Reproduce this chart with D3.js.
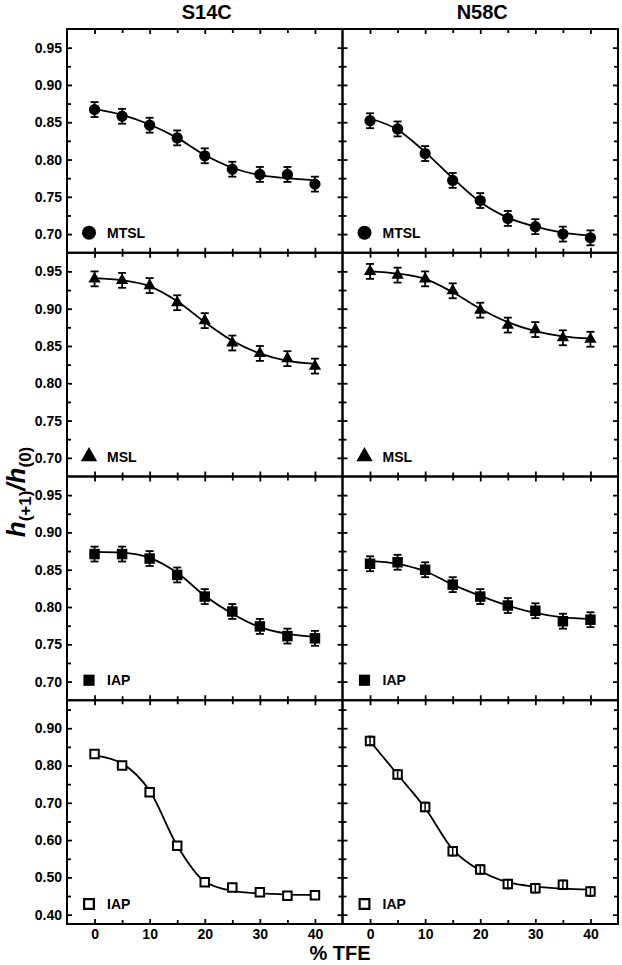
<!DOCTYPE html>
<html><head><meta charset="utf-8">
<script src="https://cdn.jsdelivr.net/npm/d3@7"></script>
<style>
body{margin:0;background:#fff}
svg{display:block}
text{font-family:"Liberation Sans",Arial,sans-serif;font-weight:bold;fill:#000}
</style>
</head><body>
<svg id="c" width="622" height="965"></svg>
<script>
// ---------- data ----------
const xValues = [0, 5, 10, 15, 20, 25, 30, 35, 40];
const columns = ["S14C", "N58C"];
const rowLabels = ["MTSL", "MSL", "IAP", "IAP"];
const rowMarkers = ["circle", "triangle", "square", "squareOpen"];

const xMajorTicks = [0, 10, 20, 30, 40];
const xMinorTicks = [5, 15, 25, 35];
const xTickLabels = ["0", "10", "20", "30", "40"];

const yMajorTicksTop = [0.70, 0.75, 0.80, 0.85, 0.90, 0.95];
const yMinorTicksTop = [0.725, 0.775, 0.825, 0.875, 0.925];
const yTickLabelsTop = ["0.70", "0.75", "0.80", "0.85", "0.90", "0.95"];
const yMajorTicksBottom = [0.40, 0.50, 0.60, 0.70, 0.80, 0.90];
const yMinorTicksBottom = [0.45, 0.55, 0.65, 0.75, 0.85, 0.95];
const yTickLabelsBottom = ["0.40", "0.50", "0.60", "0.70", "0.80", "0.90"];

const yDomainTop = [0.675, 0.975];
const yDomainBottom = [0.375, 0.975];

// S14C
const s14cMTSL     = [0.867, 0.858, 0.846, 0.829, 0.805, 0.787, 0.780, 0.780, 0.767];
const s14cMTSLErr  = [0.010, 0.010, 0.010, 0.010, 0.010, 0.010, 0.010, 0.010, 0.010];
const s14cMTSLFit  = [0.868, 0.860, 0.847, 0.829, 0.806, 0.789, 0.779, 0.775, 0.772];
const s14cMSL      = [0.940, 0.938, 0.931, 0.908, 0.884, 0.854, 0.840, 0.833, 0.823];
const s14cMSLErr   = [0.010, 0.010, 0.010, 0.010, 0.010, 0.010, 0.010, 0.010, 0.010];
const s14cMSLFit   = [0.941, 0.938, 0.930, 0.910, 0.882, 0.857, 0.840, 0.830, 0.826];
const s14cIAP      = [0.871, 0.871, 0.865, 0.843, 0.814, 0.794, 0.774, 0.761, 0.758];
const s14cIAPErr   = [0.010, 0.010, 0.010, 0.010, 0.010, 0.010, 0.010, 0.010, 0.010];
const s14cIAPFit   = [0.874, 0.873, 0.866, 0.846, 0.815, 0.791, 0.773, 0.764, 0.760];
const s14cIAP2     = [0.831, 0.800, 0.728, 0.585, 0.487, 0.473, 0.460, 0.451, 0.452];
const s14cIAP2Err  = [0.003, 0.003, 0.003, 0.003, 0.003, 0.003, 0.003, 0.003, 0.003];
const s14cIAP2Fit  = [0.827, 0.805, 0.732, 0.585, 0.489, 0.464, 0.457, 0.454, 0.453];
// N58C
const n58cMTSL     = [0.852, 0.841, 0.808, 0.772, 0.745, 0.721, 0.710, 0.700, 0.695];
const n58cMTSLErr  = [0.010, 0.010, 0.010, 0.010, 0.010, 0.010, 0.010, 0.010, 0.010];
const n58cMTSLFit  = [0.855, 0.840, 0.810, 0.775, 0.743, 0.722, 0.710, 0.702, 0.698];
const n58cMSL      = [0.950, 0.945, 0.940, 0.924, 0.898, 0.878, 0.872, 0.861, 0.859];
const n58cMSLErr   = [0.010, 0.010, 0.010, 0.010, 0.010, 0.010, 0.010, 0.010, 0.010];
const n58cMSLFit   = [0.950, 0.947, 0.940, 0.922, 0.900, 0.882, 0.870, 0.863, 0.860];
const n58cIAP      = [0.858, 0.860, 0.850, 0.830, 0.814, 0.802, 0.795, 0.781, 0.783];
const n58cIAPErr   = [0.010, 0.010, 0.010, 0.010, 0.010, 0.010, 0.010, 0.010, 0.010];
const n58cIAPFit   = [0.862, 0.858, 0.848, 0.830, 0.815, 0.802, 0.792, 0.786, 0.784];
const n58cIAP2     = [0.866, 0.776, 0.689, 0.570, 0.521, 0.482, 0.471, 0.480, 0.462];
const n58cIAP2Err  = [0.012, 0.012, 0.012, 0.012, 0.012, 0.012, 0.012, 0.012, 0.012];
const n58cIAP2Fit  = [0.865, 0.776, 0.686, 0.575, 0.518, 0.487, 0.475, 0.470, 0.467];

const panels = [
  [[s14cMTSL, s14cMTSLErr, s14cMTSLFit], [n58cMTSL, n58cMTSLErr, n58cMTSLFit]],
  [[s14cMSL, s14cMSLErr, s14cMSLFit], [n58cMSL, n58cMSLErr, n58cMSLFit]],
  [[s14cIAP, s14cIAPErr, s14cIAPFit], [n58cIAP, n58cIAPErr, n58cIAPFit]],
  [[s14cIAP2, s14cIAP2Err, s14cIAP2Fit], [n58cIAP2, n58cIAP2Err, n58cIAP2Fit]]
];

// ---------- layout ----------
const svg = d3.select("#c");
const left0 = 67, colW = 275.5, top0 = 29, rowH = 223.75;

const x = d3.scaleLinear().domain([-5, 45]).range([0, colW]);

function markerPath(type, legend) {
  if (type === "circle") return d3.symbol(d3.symbolCircle, legend ? 155 : 100)();
  if (type === "triangle") return d3.symbol(d3.symbolTriangle, legend ? 115 : 66)();
  if (type === "square") return d3.symbol(d3.symbolSquare, legend ? 125 : 110)();
  return d3.symbol(d3.symbolSquare, legend ? 95 : 72)();
}

for (let r = 0; r < 4; r++) {
  const bottomRow = r === 3;
  const y = d3.scaleLinear()
    .domain(bottomRow ? yDomainBottom : yDomainTop)
    .range([rowH, 0]);
  const yMaj = bottomRow ? yMajorTicksBottom : yMajorTicksTop;
  const yMin = bottomRow ? yMinorTicksBottom : yMinorTicksTop;
  const yLab = bottomRow ? yTickLabelsBottom : yTickLabelsTop;

  for (let c = 0; c < 2; c++) {
    const g = svg.append("g")
      .attr("transform", `translate(${left0 + c * colW},${top0 + r * rowH})`);

    const styleAxis = sel => {
      sel.select(".domain").remove();
      sel.selectAll(".tick line").attr("stroke", "#000").attr("stroke-width", 1.8);
      sel.selectAll(".tick text")
        .style("font-family", '"Liberation Sans",Arial,sans-serif')
        .style("font-weight", "bold").style("font-size", "14px").attr("fill", "#000");
    };

    // left axis
    g.append("g").call(d3.axisLeft(y).tickValues(yMaj).tickSizeInner(-5).tickSizeOuter(0)
        .tickPadding(5).tickFormat((d, i) => c === 0 ? yLab[i] : ""))
      .call(styleAxis);
    g.append("g").call(d3.axisLeft(y).tickValues(yMin).tickSizeInner(-4).tickSizeOuter(0).tickFormat(""))
      .call(styleAxis);
    // right axis
    g.append("g").attr("transform", `translate(${colW},0)`)
      .call(d3.axisRight(y).tickValues(yMaj).tickSizeInner(-5).tickSizeOuter(0).tickFormat(""))
      .call(styleAxis);
    g.append("g").attr("transform", `translate(${colW},0)`)
      .call(d3.axisRight(y).tickValues(yMin).tickSizeInner(-4).tickSizeOuter(0).tickFormat(""))
      .call(styleAxis);
    // top axis
    g.append("g")
      .call(d3.axisTop(x).tickValues(xMajorTicks).tickSizeInner(-5).tickSizeOuter(0).tickFormat(""))
      .call(styleAxis);
    g.append("g")
      .call(d3.axisTop(x).tickValues(xMinorTicks).tickSizeInner(-4).tickSizeOuter(0).tickFormat(""))
      .call(styleAxis);
    // bottom axis
    g.append("g").attr("transform", `translate(0,${rowH})`)
      .call(d3.axisBottom(x).tickValues(xMajorTicks).tickSizeInner(-5).tickSizeOuter(0)
        .tickPadding(5).tickFormat((d, i) => bottomRow ? xTickLabels[i] : ""))
      .call(styleAxis);
    g.append("g").attr("transform", `translate(0,${rowH})`)
      .call(d3.axisBottom(x).tickValues(xMinorTicks).tickSizeInner(-4).tickSizeOuter(0).tickFormat(""))
      .call(styleAxis);

    // frame
    g.append("rect").attr("x", 0).attr("y", 0).attr("width", colW).attr("height", rowH)
      .attr("fill", "none").attr("stroke", "#000").attr("stroke-width", 2);

    const [vals, errs, fit] = panels[r][c];

    // fit curve
    const line = d3.line().x((d, i) => x(xValues[i])).y(d => y(d)).curve(d3.curveMonotoneX);
    g.append("path").datum(fit).attr("d", line)
      .attr("fill", "none").attr("stroke", "#000").attr("stroke-width", 1.8);

    const mtype = rowMarkers[r];
    const open = mtype === "squareOpen";

    // error bars (outside markers)
    if (!open) {
      const eb = g.append("g").attr("stroke", "#000").attr("stroke-width", 1.8);
      vals.forEach((v, i) => {
        const cx = x(xValues[i]);
        const y1 = y(v + errs[i]), y2 = y(v - errs[i]);
        eb.append("line").attr("x1", cx).attr("x2", cx).attr("y1", y1).attr("y2", y2);
        eb.append("line").attr("x1", cx - 4).attr("x2", cx + 4).attr("y1", y1).attr("y2", y1);
        eb.append("line").attr("x1", cx - 4).attr("x2", cx + 4).attr("y1", y2).attr("y2", y2);
      });
    }

    // markers
    g.append("g").selectAll("path").data(vals).join("path")
      .attr("transform", (d, i) => `translate(${x(xValues[i])},${y(d)})`)
      .attr("d", markerPath(mtype, false))
      .attr("fill", open ? "#fff" : "#000")
      .attr("stroke", open ? "#000" : "none")
      .attr("stroke-width", 2);
    if (open) {
      // small error bars visible inside open squares
      const eb2 = g.append("g").attr("stroke", "#000").attr("stroke-width", 1.5);
      vals.forEach((v, i) => {
        const cx = x(xValues[i]);
        const y1 = y(v + errs[i]), y2 = y(v - errs[i]);
        if (y2 - y1 < 3) return;
        eb2.append("line").attr("x1", cx).attr("x2", cx).attr("y1", y1).attr("y2", y2);
        eb2.append("line").attr("x1", cx - 2.5).attr("x2", cx + 2.5).attr("y1", y1).attr("y2", y1);
        eb2.append("line").attr("x1", cx - 2.5).attr("x2", cx + 2.5).attr("y1", y2).attr("y2", y2);
      });
    }

    // legend
    const ly = rowH - 20;
    g.append("path").attr("transform", `translate(22,${ly})`)
      .attr("d", markerPath(mtype, true))
      .attr("fill", open ? "none" : "#000")
      .attr("stroke", open ? "#000" : "none")
      .attr("stroke-width", 2.2);
    g.append("text").attr("x", 40).attr("y", ly + 5)
      .style("font-size", "14px").text(rowLabels[r]);
  }
}

// column titles
columns.forEach((t, c) => {
  svg.append("text")
    .attr("x", left0 + c * colW + colW / 2 + 2)
    .attr("y", 19)
    .attr("text-anchor", "middle")
    .style("font-size", "20px")
    .text(t);
});

// x label
svg.append("text").attr("x", 340).attr("y", 960).attr("text-anchor", "middle")
  .style("font-size", "20px").text("% TFE");

// y label
const yl = svg.append("text")
  .attr("transform", "translate(25,492) rotate(-90)")
  .attr("text-anchor", "middle")
  .style("font-size", "26px");
yl.append("tspan").style("font-style", "italic").text("h");
yl.append("tspan").attr("dy", 6).style("font-size", "17px").text("(+1)");
yl.append("tspan").attr("dy", -6).style("font-style", "italic").text("/");
yl.append("tspan").style("font-style", "italic").text("h");
yl.append("tspan").attr("dy", 6).style("font-size", "17px").text("(0)");
</script>
</body></html>
